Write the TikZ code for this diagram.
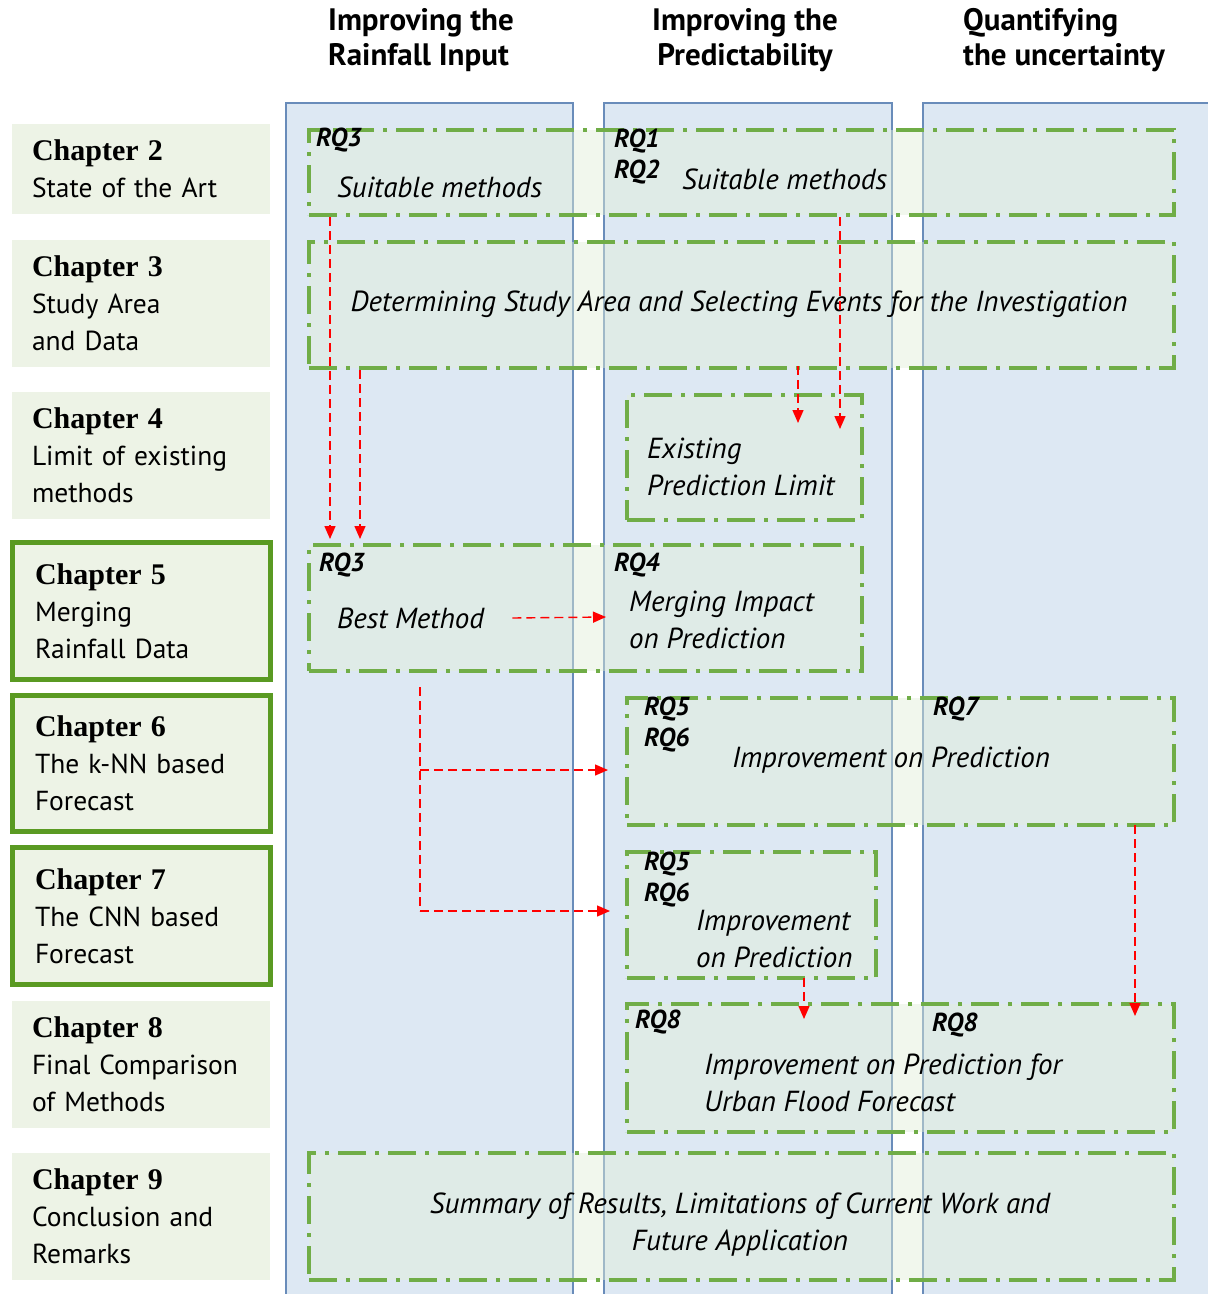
\documentclass[tikz,border=0pt]{standalone}
\usepackage{fontspec}
\setmainfont{PT Sans}
\newfontfamily\chapfont{Liberation Serif}
\usetikzlibrary{arrows.meta,calc}
\definecolor{chapfill}{RGB}{237,243,230}
\definecolor{chapedge}{RGB}{90,154,34}
\definecolor{gdash}{RGB}{112,173,71}
\definecolor{gfill}{RGB}{226,239,217}
\definecolor{colfill}{RGB}{221,232,243}
\definecolor{coledge}{RGB}{105,140,186}
\newcommand{\chapttl}[1]{{\chapfont\bfseries\fontsize{30}{37}\selectfont #1}}
\begin{document}
\begin{tikzpicture}[x=1pt,y=-1pt,
  chapbox/.style={fill=chapfill, draw=none, anchor=north west, inner xsep=19pt, inner ysep=0pt,
    outer sep=0pt, align=left, text width=218pt, font=\fontsize{27.5}{37}\selectfont},
  chapthick/.style={chapbox, draw=chapedge, line width=5pt, inner xsep=22pt, text width=212pt},
  colbox/.style={fill=colfill, draw=coledge, line width=2pt},
  gbox/.style={draw=gdash, line width=4pt, dash pattern=on 28pt off 9pt on 4pt off 9pt,
    fill=gfill, fill opacity=0.45, anchor=north west, inner sep=0pt, outer sep=0pt},
  head/.style={font=\bfseries\fontsize{31}{35}\selectfont, inner sep=0pt},
  itxt/.style={font=\itshape\fontsize{29}{37}\selectfont, inner sep=0pt, align=left},
  rq/.style={font=\bfseries\itshape\fontsize{26}{30}\selectfont, inner sep=0pt, anchor=west},
  rarr/.style={draw=red, line width=1.4pt, dash pattern=on 9pt off 5pt,
    -{Triangle[length=13pt,width=11pt]}},
  rline/.style={draw=red, line width=1.4pt, dash pattern=on 9pt off 5pt}
]
\useasboundingbox (0,0) rectangle (1208,1294);
\fill[white] (0,0) rectangle (1208,1294);

% column headers
\node[head, align=left, anchor=west] (h1) at (328,40) {Improving the\\Rainfall Input};
\node[head, align=center] (h2) at (745,40) {Improving the\\Predictability};
\node[head, align=left, anchor=west] (h3) at (963,40) {Quantifying\\the uncertainty};

% columns
\draw[colbox] (286,103) rectangle (573,1310);
\draw[colbox] (604,103) rectangle (892,1310);
\draw[colbox] (923,103) rectangle (1220,1310);

% chapter boxes
\node[chapbox, minimum width=258pt, minimum height=90pt] (c2) at (12,124) {\chapttl{Chapter 2}\\State of the Art};
\node[chapbox, minimum width=258pt, minimum height=127pt] (c3) at (12,240) {\chapttl{Chapter 3}\\Study Area\\and Data};
\node[chapbox, minimum width=258pt, minimum height=127pt] (c4) at (12,392) {\chapttl{Chapter 4}\\Limit of existing\\methods};
\node[chapthick, minimum width=258pt, minimum height=137pt] (c5) at (12,542.5) {\chapttl{Chapter 5}\\Merging\\Rainfall Data};
\node[chapthick, minimum width=258pt, minimum height=136pt] (c6) at (12,695.5) {\chapttl{Chapter 6}\\The k-NN based\\Forecast};
\node[chapthick, minimum width=258pt, minimum height=137pt] (c7) at (12,847.5) {\chapttl{Chapter 7}\\The CNN based\\Forecast};
\node[chapbox, minimum width=258pt, minimum height=127pt] (c8) at (12,1001) {\chapttl{Chapter 8}\\Final Comparison\\of Methods};
\node[chapbox, minimum width=258pt, minimum height=127pt] (c9) at (12,1153) {\chapttl{Chapter 9}\\Conclusion and\\Remarks};

% green dash-dot boxes
\node[gbox, minimum width=865pt, minimum height=85pt] (A) at (309,130) {};
\node[gbox, minimum width=865pt, minimum height=126pt] (B) at (309,242) {};
\node[gbox, minimum width=235pt, minimum height=125pt] (C) at (627,395) {};
\node[gbox, minimum width=553pt, minimum height=126pt] (D) at (309,545) {};
\node[gbox, minimum width=547pt, minimum height=127pt] (E) at (627,698) {};
\node[gbox, minimum width=249pt, minimum height=126pt] (F) at (627,852) {};
\node[gbox, minimum width=547pt, minimum height=128pt] (G) at (627,1004) {};
\node[gbox, minimum width=865pt, minimum height=127pt] (H) at (309,1153) {};

% texts in boxes
\node[rq] (a1) at (316,140) {RQ3};
\node[itxt, anchor=west] (a2) at (337,187) {Suitable methods};
\node[rq] (a3) at (614,141) {RQ1};
\node[rq] (a4) at (614,172) {RQ2};
\node[itxt, anchor=west] (a5) at (682,179) {Suitable methods};

\node[itxt] (b1) at (739,304) {Determining Study Area and Selecting Events for the Investigation};

\node[itxt, anchor=west] (c1) at (647,467) {Existing\\Prediction Limit};

\node[rq] (d1) at (319,565) {RQ3};
\node[itxt, anchor=west] (best) at (337,618) {Best Method};
\node[rq] (d3) at (614,565) {RQ4};
\node[itxt, anchor=west] (d4) at (629,620) {Merging Impact\\on Prediction};

\node[rq] (e1) at (644,709) {RQ5};
\node[rq] (e2) at (644,740) {RQ6};
\node[rq] (e3) at (933,709) {RQ7};
\node[itxt] (e4) at (891,760) {Improvement on Prediction};

\node[rq] (f1) at (644,864) {RQ5};
\node[rq] (f2) at (644,895) {RQ6};
\node[itxt, anchor=west] (f3) at (696,939) {Improvement\\on Prediction};

\node[rq] (g1) at (635,1022) {RQ8};
\node[rq] (g2) at (932,1025) {RQ8};
\node[itxt, anchor=west] (g3) at (704,1083) {Improvement on Prediction for\\Urban Flood Forecast};

\node[itxt, align=center] (h) at (740,1225) {Summary of Results, Limitations of Current Work and\\Future Application};

% helper coordinates
\coordinate (x330) at (330,0);
\coordinate (x360) at (360,0);
\coordinate (x798) at (798,0);
\coordinate (x840) at (840,0);
\coordinate (x420) at (420,0);
\coordinate (x804) at (804,0);
\coordinate (x1135) at (1135,0);
\coordinate (t3) at (840,429);
\coordinate (t4) at (798,423);
\coordinate (t5) at (606,617);
\coordinate (k1) at (420,770);
\coordinate (k2) at (420,911);
\coordinate (t6) at (608,770);
\coordinate (t7) at (610,911);
\coordinate (t8) at (804,1019);
\coordinate (t9) at (1135,1016);

% red dashed arrows
\draw[rarr] ($(A.south -| x330)+(0,2)$) -- ($(D.north -| x330)+(0,-6)$);
\draw[rarr] ($(B.south -| x360)+(0,2)$) -- ($(D.north -| x360)+(0,-6)$);
\draw[rarr] ($(A.south -| x840)+(0,2)$) -- (t3);
\draw[rarr] ($(B.south -| x798)+(0,-2)$) -- (t4);
\draw[rarr] ([xshift=28pt]best.east) -- (t5);
\draw[rline] ($(D.south -| x420)+(0,16)$) -- (k2);
\draw[rarr] (k1) -- (t6);
\draw[rarr] (k2) -- (t7);
\draw[rarr] (F.south -| x804) -- (t8);
\draw[rarr] (E.south -| x1135) -- (t9);
\end{tikzpicture}
\end{document}
